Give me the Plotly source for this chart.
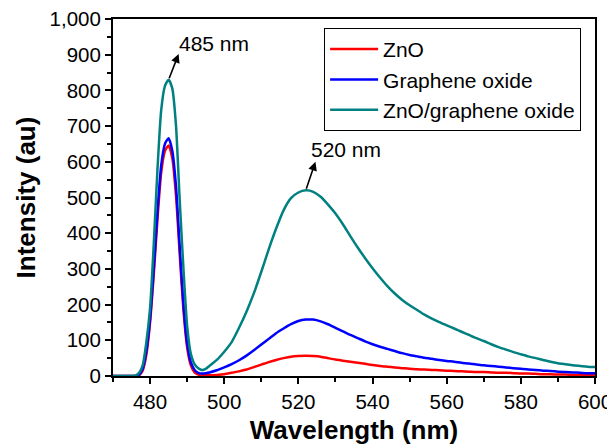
import plotly.graph_objects as go

wavelength = [470, 472, 474, 476, 477, 478, 479, 480, 481, 482, 483, 484, 485, 486,
              487, 488, 489, 490, 491, 492, 493, 494, 495, 496, 498, 500, 502, 504,
              506, 508, 510, 512, 514, 516, 518, 520, 522, 524, 526, 528, 530, 532,
              534, 536, 538, 540, 542, 544, 546, 548, 550, 552, 554, 556, 558, 560,
              562, 564, 566, 568, 570, 572, 574, 576, 578, 580, 582, 584, 586, 588,
              590, 592, 594, 596, 598, 600]

zno = [0, 0, 0, 0, 2, 15, 60, 150, 285, 440, 570, 630, 646, 610,
       505, 340, 185, 80, 30, 10, 4, 2, 2, 2, 3, 5, 9, 13,
       18, 25, 32, 39, 45, 50, 54, 56, 57, 56, 54, 50, 46, 43,
       40, 37, 34, 31, 28, 26, 24, 22, 20, 19, 18, 17, 16, 15,
       14, 13, 12, 11, 11, 10, 9, 9, 8, 7, 7, 6, 5, 5,
       4, 4, 3, 3, 3, 3]

graphene_oxide = [0, 0, 0, 0, 3, 20, 70, 160, 300, 460, 590, 650, 666, 630,
                  530, 360, 200, 90, 38, 17, 9, 7, 8, 10, 16, 24, 33, 44,
                  57, 72, 88, 104, 120, 133, 145, 154, 158, 158, 153, 145, 135, 125,
                  115, 106, 97, 89, 82, 76, 70, 64, 59, 55, 51, 48, 45, 42,
                  40, 37, 35, 32, 30, 28, 26, 24, 22, 20, 18, 17, 15, 14,
                  12, 11, 10, 9, 8, 8]

zno_go = [0, 0, 0, 1, 8, 30, 95, 190, 370, 580, 745, 812, 830, 805,
          700, 490, 300, 140, 62, 33, 22, 17, 20, 28, 45, 68, 95, 135,
          180, 232, 292, 355, 413, 464, 498, 514, 520, 516, 502, 480, 455, 425,
          392, 360, 330, 302, 276, 252, 231, 213, 198, 185, 172, 161, 151, 142,
          133, 124, 115, 106, 98, 89, 81, 74, 67, 61, 55, 50, 45, 40,
          36, 33, 30, 28, 26, 25]

series_names = ["ZnO", "Graphene oxide", "ZnO/graphene oxide"]
series_values = [zno, graphene_oxide, zno_go]
series_colors = ["#ff0000", "#0000ff", "#008080"]

peak_labels = ["485 nm", "520 nm"]

FONT = "Liberation Sans, Arial, sans-serif"

fig = go.Figure()
for name, vals, col in zip(series_names, series_values, series_colors):
    fig.add_trace(go.Scatter(x=wavelength, y=vals, mode="lines", name=name,
                             line=dict(color=col, width=2.5, shape="spline", smoothing=0.6)))

# peak positions of the composite curve
i1 = max(range(len(wavelength)), key=lambda i: zno_go[i] if wavelength[i] < 495 else -1)
i2 = max(range(len(wavelength)), key=lambda i: zno_go[i] if wavelength[i] > 495 else -1)
peaks = [(wavelength[i1], zno_go[i1]), (wavelength[i2], zno_go[i2])]
head_off = [(2.7, 72), (2.6, 80)]
text_off = [(2.2, 101), (0.9, 115)]

for (px, py), (hx, hy), (tx, ty), lab in zip(peaks, head_off, text_off, peak_labels):
    fig.add_annotation(x=px + hx, y=py + hy, ax=px, ay=py, axref="x", ayref="y",
                       xref="x", yref="y", text="", showarrow=True,
                       arrowhead=2, arrowsize=1.1, arrowwidth=1.6, arrowcolor="black",
                       standoff=0, startstandoff=0)
    fig.add_annotation(x=px + tx, y=py + ty, xref="x", yref="y", text=lab,
                       showarrow=False, xanchor="left", yanchor="middle",
                       font=dict(family=FONT, size=21, color="black"))

axis_common = dict(showline=True, linecolor="black", linewidth=2, mirror=True,
                   ticks="outside", ticklen=6, tickwidth=2, tickcolor="black",
                   showgrid=False, zeroline=False, automargin=False,
                   ticklabeloverflow="allow",
                   tickfont=dict(family=FONT, size=20.5, color="black"))

fig.update_xaxes(range=[470, 600], tick0=480, dtick=20,
                 minor=dict(ticks="outside", ticklen=4, tickwidth=2, tickcolor="black",
                            dtick=10, tick0=470, showgrid=False),
                 title=dict(text="<b>Wavelength (nm)</b>", standoff=10,
                            font=dict(family=FONT, size=26, color="black")),
                 **axis_common)
fig.update_yaxes(range=[0, 1000], tick0=0, dtick=100, tickformat=",d",
                 minor=dict(ticks="outside", ticklen=4, tickwidth=2, tickcolor="black",
                            dtick=50, tick0=0, showgrid=False),
                 title=dict(text="<b>Intensity (au)</b>", standoff=6,
                            font=dict(family=FONT, size=26, color="black")),
                 **axis_common)

# page body has an 8px margin, so the figure is 8px smaller and margins shifted
fig.update_layout(
    width=607, height=437,
    margin=dict(l=105, r=20, t=11, b=69),
    paper_bgcolor="white", plot_bgcolor="white",
    font=dict(family=FONT, size=20, color="black"),
    showlegend=True,
    legend=dict(x=0.438, y=0.975, xanchor="left", yanchor="top",
                bordercolor="black", borderwidth=1, bgcolor="white",
                font=dict(family=FONT, size=21, color="black"),
                tracegroupgap=0, itemwidth=48),
)

fig.write_html("out.html")
